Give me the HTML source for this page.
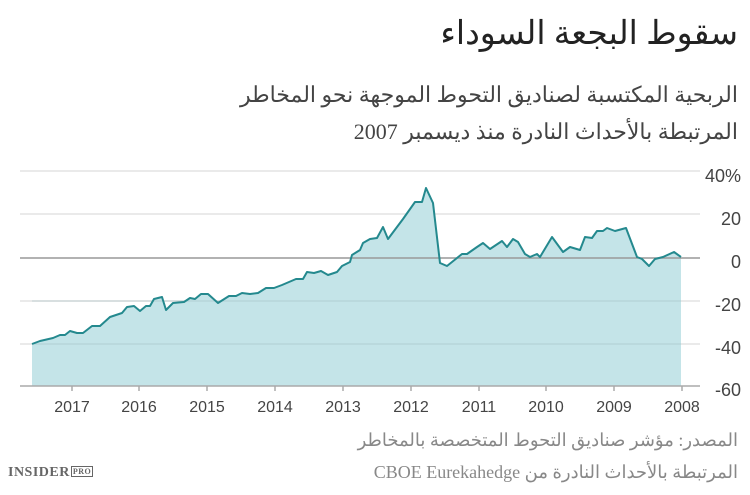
<!DOCTYPE html><html><head><meta charset="utf-8"><style>
body{margin:0;width:750px;height:495px;background:#fff;overflow:hidden;font-family:"Liberation Serif","Noto Serif CJK SC",serif;position:relative}
.t{position:absolute;right:12px;direction:rtl;white-space:nowrap}
</style></head><body>
<div class="t" style="top:13px;font-size:33px;color:#222">سقوط البجعة السوداء</div>
<div class="t" style="top:82px;font-size:22px;color:#444">الربحية المكتسبة لصناديق التحوط الموجهة نحو المخاطر</div>
<div class="t" style="top:119px;font-size:22px;color:#444">المرتبطة بالأحداث النادرة منذ ديسمبر 2007</div>
<div class="t" style="top:430px;font-size:18px;color:#888">المصدر: مؤشر صناديق التحوط المتخصصة بالمخاطر</div>
<div class="t" style="top:462px;font-size:18px;color:#888">المرتبطة بالأحداث النادرة من CBOE Eurekahedge</div>
<div style="position:absolute;left:8px;top:465px;font:bold 14px 'Liberation Serif',serif;color:#666;letter-spacing:0.5px">INSIDER<span style="font-size:8px;border:1px solid #666;padding:0 1px;margin-left:1px;vertical-align:2px">PRO</span></div>
<svg width="750" height="495" style="position:absolute;left:0;top:0" font-family="Liberation Sans,sans-serif">
<g stroke="#e3e3e3" stroke-width="1.5">
<line x1="20" x2="700" y1="171" y2="171"/><line x1="20" x2="700" y1="214" y2="214"/><line x1="20" x2="700" y1="301" y2="301"/><line x1="20" x2="700" y1="344" y2="344"/>
</g>
<polygon fill="#c4e4e8" points="32,386 32,344 40,341 53,338 60,335 65,335 70,331 77,333 83,333 92,326 100,326 110,317 122,313 127,307 134,306 140,311 146,306 150,306 154,299 162,297 166,310 173,303 184,302 190,298 195,299 201,294 208,294 218,303 229,296 236,296 242,293 250,294 258,293 266,288 274,288 282,285 296,279 303,279 307,272 314,273 321,271 328,275 337,272 342,266 350,262 352,255 360,250 363,243 370,239 377,238 383,227 388,239 403,219 415,202 422,202 426,188 433,203 440,263 447,266 462,254 467,254 477,247 483,243 490,249 502,241 507,247 513,239 518,242 525,254 530,257 537,254 540,257 552,237 563,252 570,247 580,250 585,237 592,238 597,231 603,231 607,228 615,231 626,228 637,257 642,259 649,266 655,259 663,257 674,252 681,257 681,386"/>
<g stroke="#9fb9bd" stroke-width="1" opacity="0.5"><line x1="32" x2="681" y1="301" y2="301"/><line x1="32" x2="681" y1="344" y2="344"/></g>
<line x1="20" x2="700" y1="258" y2="258" stroke="#999" stroke-width="1.5"/>
<polyline fill="none" stroke="#24898e" stroke-width="2" stroke-linejoin="round" points="32,344 40,341 53,338 60,335 65,335 70,331 77,333 83,333 92,326 100,326 110,317 122,313 127,307 134,306 140,311 146,306 150,306 154,299 162,297 166,310 173,303 184,302 190,298 195,299 201,294 208,294 218,303 229,296 236,296 242,293 250,294 258,293 266,288 274,288 282,285 296,279 303,279 307,272 314,273 321,271 328,275 337,272 342,266 350,262 352,255 360,250 363,243 370,239 377,238 383,227 388,239 403,219 415,202 422,202 426,188 433,203 440,263 447,266 462,254 467,254 477,247 483,243 490,249 502,241 507,247 513,239 518,242 525,254 530,257 537,254 540,257 552,237 563,252 570,247 580,250 585,237 592,238 597,231 603,231 607,228 615,231 626,228 637,257 642,259 649,266 655,259 663,257 674,252 681,257"/>
<line x1="20" x2="700" y1="386" y2="386" stroke="#aaa" stroke-width="1.5"/>
<g stroke="#aaa" stroke-width="1.5">
<line x1="72" x2="72" y1="386" y2="391"/><line x1="139" x2="139" y1="386" y2="391"/><line x1="207" x2="207" y1="386" y2="391"/><line x1="275" x2="275" y1="386" y2="391"/><line x1="343" x2="343" y1="386" y2="391"/><line x1="411" x2="411" y1="386" y2="391"/><line x1="479" x2="479" y1="386" y2="391"/><line x1="546" x2="546" y1="386" y2="391"/><line x1="614" x2="614" y1="386" y2="391"/><line x1="682" x2="682" y1="386" y2="391"/>
</g>
<g fill="#444" font-size="16" text-anchor="middle">
<text x="72" y="412">2017</text><text x="139" y="412">2016</text><text x="207" y="412">2015</text><text x="275" y="412">2014</text><text x="343" y="412">2013</text><text x="411" y="412">2012</text><text x="479" y="412">2011</text><text x="546" y="412">2010</text><text x="614" y="412">2009</text><text x="682" y="412">2008</text>
</g>
<g fill="#444" font-size="18" text-anchor="end">
<text x="741" y="182">40%</text><text x="741" y="225">20</text><text x="741" y="268">0</text><text x="741" y="311">-20</text><text x="741" y="354">-40</text><text x="741" y="396">-60</text>
</g>
</svg>
</body></html>
